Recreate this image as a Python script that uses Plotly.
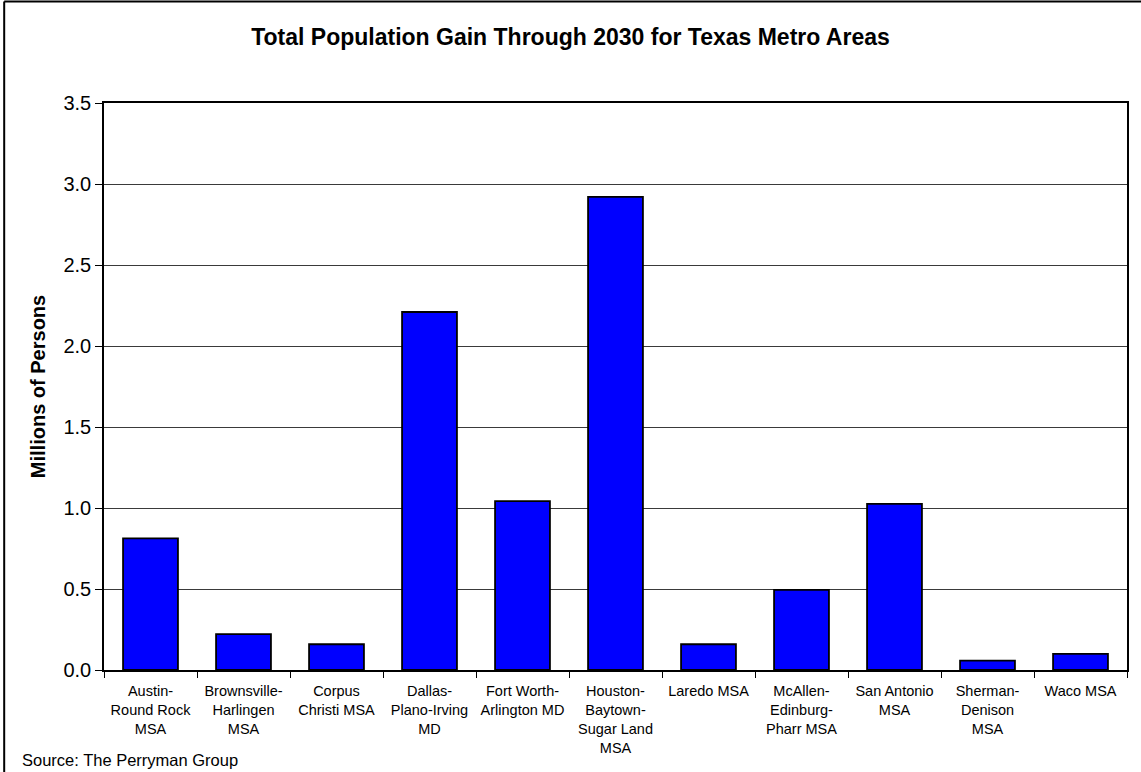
import plotly.graph_objects as go

# Metro areas and projected population gain (millions of persons)
metro_areas = [
    "Austin-<br>Round Rock<br>MSA",
    "Brownsville-<br>Harlingen<br>MSA",
    "Corpus<br>Christi MSA",
    "Dallas-<br>Plano-Irving<br>MD",
    "Fort Worth-<br>Arlington MD",
    "Houston-<br>Baytown-<br>Sugar Land<br>MSA",
    "Laredo MSA",
    "McAllen-<br>Edinburg-<br>Pharr MSA",
    "San Antonio<br>MSA",
    "Sherman-<br>Denison<br>MSA",
    "Waco MSA",
]
population_gain = [0.813, 0.222, 0.159, 2.21, 1.043, 2.92, 0.159, 0.494, 1.025, 0.058, 0.099]

y_ticks = [0.0, 0.5, 1.0, 1.5, 2.0, 2.5, 3.0, 3.5]
y_tick_labels = ["0.0", "0.5", "1.0", "1.5", "2.0", "2.5", "3.0", "3.5"]

W, H = 1141, 772
L, R, T, B = 104, 12, 103, 102
pw, ph = W - L - R, H - T - B

def px_x(x):
    return (x - L) / pw

def px_y(y):
    return (H - B - y) / ph

FONT = "Liberation Sans, Arial, sans-serif"

fig = go.Figure(
    go.Bar(
        x=metro_areas,
        y=population_gain,
        marker=dict(color="#0000FF", line=dict(color="#000000", width=1.8)),
    )
)

fig.update_layout(
    width=W,
    height=H,
    margin=dict(l=L, r=R, t=T, b=B),
    paper_bgcolor="white",
    plot_bgcolor="white",
    bargap=0.41,
    showlegend=False,
    font=dict(family=FONT, color="black"),
    title=dict(
        text="<b>Total Population Gain Through 2030 for Texas Metro Areas</b>",
        x=0.5,
        xanchor="center",
        xref="container",
        y=1 - 37 / H,
        yanchor="middle",
        yref="container",
        font=dict(size=23, family=FONT, color="black"),
    ),
    xaxis=dict(
        type="category",
        showline=True,
        linecolor="black",
        linewidth=1.5,
        mirror=True,
        ticks="outside",
        tickson="boundaries",
        ticklen=6,
        tickcolor="black",
        tickwidth=1.2,
        ticklabelstandoff=7,
        tickfont=dict(size=14.5, family=FONT, color="black"),
        showgrid=False,
        tickangle=0,
    ),
    yaxis=dict(
        range=[0, 3.5],
        tickvals=y_ticks,
        ticktext=y_tick_labels,
        showline=True,
        linecolor="black",
        linewidth=1.5,
        mirror=True,
        ticks="outside",
        ticklen=7,
        tickcolor="black",
        tickwidth=1.2,
        tickfont=dict(size=20, family=FONT, color="black"),
        showgrid=True,
        gridcolor="#3a3a3a",
        gridwidth=1,
        zeroline=False,
        title=dict(
            text="<b>Millions of Persons</b>",
            font=dict(size=20, family=FONT, color="black"),
            standoff=12,
        ),
    ),
)

# Source note in the lower-left corner
fig.add_annotation(
    text="Source: The Perryman Group",
    xref="paper",
    yref="paper",
    x=px_x(20),
    y=px_y(760),
    xanchor="left",
    yanchor="middle",
    showarrow=False,
    font=dict(size=16.5, family=FONT, color="black"),
)

# Chart frame (left and top edges)
fig.add_shape(type="line", xref="paper", yref="paper",
              x0=px_x(4), x1=px_x(W + 10), y0=px_y(1.5), y1=px_y(1.5),
              line=dict(color="black", width=2))
fig.add_shape(type="line", xref="paper", yref="paper",
              x0=px_x(4), x1=px_x(4), y0=px_y(1.5), y1=px_y(H + 10),
              line=dict(color="black", width=2))

fig.write_html("out.html")
